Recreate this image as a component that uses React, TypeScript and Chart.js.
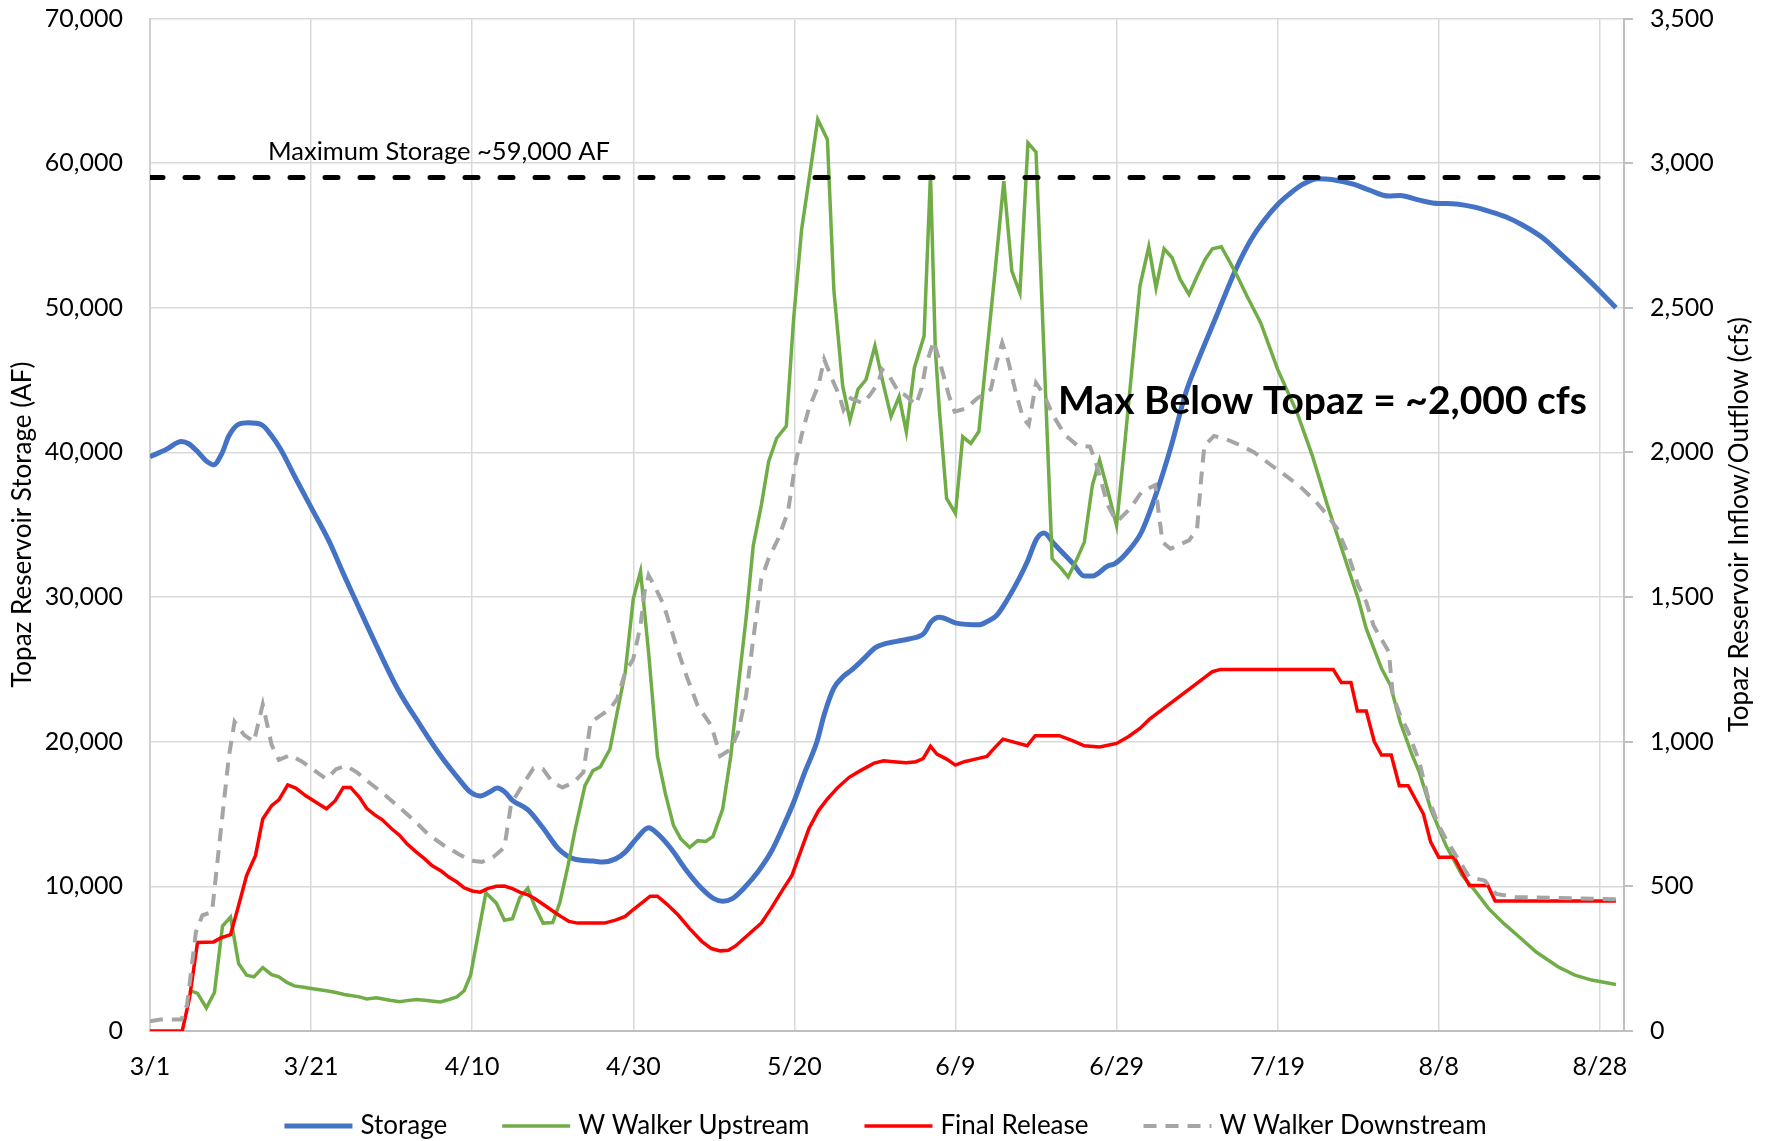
import React, { useEffect, useRef } from 'react';
import { Chart, registerables } from 'chart.js';

Chart.register(...registerables);

// ---- Data (day 0 = 3/1) ----
const xTickDays = [0, 20, 40, 60, 80, 100, 120, 140, 160, 180];
const xTickLabels = ['3/1', '3/21', '4/10', '4/30', '5/20', '6/9', '6/29', '7/19', '8/8', '8/28'];

const storageDays = [0, 2, 3.9, 4.8, 6, 7, 7.9, 8.9, 9.8, 11, 12.2, 13.9, 15.1, 16.2, 18, 20, 22.2, 24.1, 25.5, 27.9, 30.7, 33.6, 36, 38.3, 39.8, 41, 42.1, 43.1, 44, 45, 46.9, 48.8, 50.7, 52.6, 55, 56.2, 57.8, 59, 60.4, 61.9, 63, 64.7, 66.6, 68.5, 70, 71.1, 72.3, 73.7, 75.6, 77.1, 78.5, 79.9, 81.3, 82.8, 83.7, 84.9, 86.1, 87, 88.5, 90.1, 91.3, 92.7, 94.2, 96.1, 97, 98, 100.1, 102.9, 103.9, 105.1, 106.5, 107.9, 108.9, 110.1, 111, 112.2, 114.6, 116, 117, 118.9, 119.8, 121.7, 123.1, 125, 126.7, 128.6, 130, 132.4, 134.8, 136.7, 138.1, 140, 141.4, 143.1, 145, 146.7, 149.5, 151.4, 153.8, 155.2, 157.6, 160, 161, 164.3, 166.2, 168.3, 170.5, 172.9, 175.2, 178.1, 180, 182];
const storageAF = [39700, 40200, 40750, 40600, 40000, 39400, 39150, 39900, 41150, 41950, 42050, 41900, 41150, 40230, 38300, 36200, 33900, 31500, 29800, 26900, 23700, 21100, 19100, 17450, 16500, 16250, 16500, 16800, 16550, 15950, 15300, 14030, 12600, 11900, 11750, 11680, 11900, 12370, 13300, 14050, 13650, 12600, 11100, 9850, 9150, 8970, 9150, 9850, 11100, 12370, 14000, 15800, 17900, 20000, 21870, 23700, 24520, 24910, 25670, 26520, 26780, 26940, 27100, 27500, 28300, 28600, 28200, 28080, 28300, 28730, 29880, 31270, 32420, 34040, 34430, 33700, 32310, 31450, 31450, 32150, 32310, 33350, 34500, 37270, 40280, 44130, 46200, 49430, 52650, 54720, 55880, 57140, 57840, 58530, 58920, 58870, 58530, 58130, 57720, 57770, 57440, 57210, 57210, 56980, 56680, 56290, 55690, 54840, 53690, 52190, 51150, 50000];

const upstreamDays = [4.85, 5.9, 7, 8, 9, 10, 11, 12, 12.9, 14, 15.1, 16, 17, 17.9, 18.9, 20, 21.9, 23.1, 24.1, 26, 26.9, 28.1, 29.8, 31, 31.9, 33.1, 34.1, 36, 36.9, 38.1, 39, 39.8, 41.7, 43, 44, 45, 45.9, 46.9, 47.8, 48.8, 50, 50.9, 51.9, 52.8, 54, 55, 55.9, 57.1, 58, 59, 60, 60.9, 61.9, 63, 64, 65, 65.9, 67, 68, 69, 69.9, 71.1, 72.1, 73, 74, 74.9, 75.9, 76.8, 77.8, 79, 79.9, 80.9, 82, 82.9, 84.1, 84.9, 86, 86.9, 87.9, 88.9, 90, 91, 92, 93, 93.9, 94.9, 96.1, 96.9, 97.5, 98, 98.9, 100, 100.9, 101.9, 102.9, 104.9, 106, 107, 108, 109, 110, 112, 113.1, 114, 115.1, 116, 117, 117.9, 119, 120, 121, 122.9, 124, 124.9, 125.9, 126.9, 127.9, 129, 130, 131, 131.9, 133, 134.1, 135, 136.2, 137.9, 140, 142.4, 144.3, 146.2, 148.1, 150, 151, 152.9, 154, 155.2, 156.7, 157.6, 159, 160.9, 162.9, 164.3, 166.2, 168.1, 170, 172.1, 174.8, 176.9, 179, 182];
const upstreamCfs = [141, 130, 80, 133, 363, 394, 233, 193, 187, 219, 195, 187, 168, 156, 152, 147, 139, 133, 126, 118, 111, 115, 106, 101, 105, 109, 106, 100, 107, 118, 139, 193, 478, 442, 383, 388, 460, 494, 429, 373, 375, 446, 572, 699, 848, 900, 913, 974, 1101, 1240, 1494, 1589, 1309, 951, 819, 710, 664, 635, 658, 655, 673, 767, 950, 1182, 1425, 1679, 1818, 1968, 2049, 2091, 2460, 2771, 2978, 3151, 3082, 2563, 2229, 2112, 2218, 2252, 2368, 2241, 2124, 2193, 2071, 2293, 2402, 2961, 2356, 2147, 1841, 1789, 2054, 2031, 2072, 2621, 2938, 2627, 2552, 3070, 3038, 1633, 1600, 1569, 1633, 1690, 1887, 1973, 1858, 1748, 2025, 2575, 2711, 2569, 2704, 2673, 2598, 2546, 2609, 2667, 2704, 2711, 2656, 2609, 2540, 2448, 2287, 2138, 1989, 1816, 1655, 1494, 1391, 1253, 1195, 1069, 954, 894, 768, 641, 538, 492, 423, 371, 325, 273, 222, 193, 176, 161];

const releaseDays = [0, 4, 4.9, 5.9, 7.9, 8.8, 10, 11, 12, 13.1, 14, 15.1, 16, 17.1, 18.1, 19.3, 20.8, 21.9, 23, 24, 24.9, 26, 26.9, 27.9, 28.8, 30, 31, 31.9, 33, 34.1, 35, 36.2, 37.1, 38.1, 39, 40, 41, 41.9, 43, 44, 45, 45.9, 46.9, 47.8, 48.8, 50, 50.9, 52, 53.1, 56.4, 57.8, 59, 60, 61.1, 62.1, 63, 64.2, 65.6, 67, 68.5, 69.7, 70.8, 71.8, 72.7, 74.2, 75.9, 77.1, 78.5, 79.7, 80.6, 81.8, 83, 84.1, 85.4, 86.8, 88.2, 89.9, 91.1, 92.3, 93.9, 95.1, 96, 96.9, 97.7, 98.9, 100, 101.1, 102.2, 103.9, 104.8, 105.9, 107.5, 108.9, 109.9, 112.9, 114.6, 116, 117.9, 120, 121.5, 122.9, 124.1, 131.9, 132.9, 146.9, 147.9, 149.1, 149.9, 151, 152, 152.9, 154.1, 155.1, 156.2, 158.1, 159, 160, 161.9, 163.8, 166.1, 167, 182];
const releaseCfs = [0, 0, 113, 306, 308, 322, 333, 434, 538, 607, 733, 779, 799, 851, 840, 814, 787, 768, 796, 842, 842, 808, 770, 747, 731, 699, 676, 647, 620, 595, 572, 552, 532, 515, 495, 484, 480, 492, 500, 501, 492, 480, 471, 457, 438, 415, 398, 379, 373, 373, 383, 396, 420, 444, 466, 466, 438, 400, 354, 310, 285, 277, 279, 294, 331, 373, 423, 486, 538, 607, 699, 762, 802, 842, 877, 900, 926, 934, 931, 927, 931, 942, 984, 957, 940, 919, 931, 938, 949, 977, 1009, 997, 986, 1021, 1021, 1003, 986, 982, 994, 1018, 1046, 1078, 1242, 1250, 1250, 1205, 1205, 1106, 1106, 1000, 954, 954, 848, 848, 750, 653, 601, 601, 503, 503, 449, 449];

const downstreamDays = [0, 1.3, 3.9, 4.6, 5.7, 6.5, 7.7, 8.9, 9.8, 10.5, 11.7, 12.9, 14, 15.1, 16, 17.4, 18.9, 20.3, 21.9, 23.1, 24.3, 25.7, 27.2, 28.8, 30.7, 32.6, 34.5, 36.4, 38.3, 39.8, 41.2, 42.6, 44, 44.8, 45.2, 46.2, 47.6, 48.8, 50, 51.2, 52.6, 53.8, 54.7, 55.9, 57.1, 58, 59, 60, 60.9, 61.4, 61.9, 62.8, 63.8, 65.2, 66.6, 68, 69.7, 70.8, 72.1, 73, 74, 74.9, 75.9, 76.8, 78, 79.2, 80.1, 80.9, 81.8, 83, 83.7, 84.7, 85.6, 86.1, 87, 88.5, 89.4, 90.4, 90.9, 91.8, 93, 93.7, 95.1, 95.8, 96.3, 97.3, 98.2, 99.2, 99.9, 101.3, 102.7, 104.4, 105.1, 105.8, 106.5, 107.5, 108.4, 109.1, 110, 111, 112.1, 113.6, 115.1, 116.7, 117.4, 118.9, 120, 121.7, 123.1, 124.8, 125.7, 126.7, 129, 130, 130.5, 130.9, 132.1, 133.6, 135.5, 137.1, 139, 141, 142.9, 144.8, 146.2, 147.4, 148.8, 150, 151, 151.9, 153.8, 154.3, 155.2, 156.2, 157.6, 158.6, 160, 161, 162.4, 163.8, 165.7, 167.1, 169.5, 174.3, 182];
const downstreamCfs = [34, 40, 40, 90, 342, 400, 411, 722, 950, 1069, 1023, 1000, 1129, 989, 937, 954, 931, 903, 871, 905, 917, 894, 859, 825, 779, 733, 681, 643, 612, 589, 584, 601, 635, 779, 802, 848, 908, 905, 859, 842, 859, 894, 1067, 1090, 1113, 1148, 1240, 1286, 1402, 1517, 1575, 1529, 1471, 1344, 1228, 1124, 1055, 951, 974, 1032, 1159, 1356, 1563, 1633, 1702, 1794, 1956, 2060, 2152, 2233, 2322, 2252, 2195, 2147, 2187, 2170, 2199, 2240, 2287, 2264, 2206, 2199, 2164, 2222, 2298, 2385, 2298, 2195, 2141, 2152, 2187, 2218, 2310, 2379, 2322, 2206, 2118, 2095, 2240, 2199, 2129, 2060, 2025, 2020, 1968, 1818, 1760, 1806, 1864, 1887, 1690, 1667, 1696, 1736, 1908, 2023, 2057, 2046, 2023, 2000, 1960, 1920, 1879, 1828, 1782, 1736, 1644, 1540, 1483, 1402, 1311, 1161, 1092, 1035, 930, 813, 710, 658, 595, 532, 520, 474, 463, 460, 455];

const maxStorageDays = [0, 182];
const maxStorageAF = [59000, 59000];

const legendLabels = ['Storage', 'W Walker Upstream', 'Final Release', 'W Walker Downstream'];

const FONT = "Lato, 'Open Sans', sans-serif";

function pts(days: number[], vals: number[]) {
  return days.map((d, i) => ({ x: d, y: vals[i] }));
}

const overlayPlugin = {
  id: 'overlay',
  afterDraw(chart: any) {
    const ctx = chart.ctx;
    const ca = chart.chartArea;
    const y1 = chart.scales.y1;
    ctx.save();

    // right-axis outward tick marks
    ctx.strokeStyle = '#bfbfbf';
    ctx.lineWidth = 2;
    (y1.ticks || []).forEach((t: any) => {
      const py = Math.round(y1.getPixelForValue(t.value));
      ctx.beginPath();
      ctx.moveTo(ca.right, py);
      ctx.lineTo(ca.right + 9, py);
      ctx.stroke();
    });

    ctx.fillStyle = '#000';
    // axis titles
    ctx.font = `26px ${FONT}`;
    ctx.textAlign = 'center';
    ctx.textBaseline = 'middle';
    const midY = (ca.top + ca.bottom) / 2;
    ctx.save();
    ctx.translate(23, midY);
    ctx.rotate(-Math.PI / 2);
    ctx.fillText('Topaz Reservoir Storage (AF)', 0, 0);
    ctx.restore();
    ctx.save();
    ctx.translate(1740, midY);
    ctx.rotate(-Math.PI / 2);
    ctx.fillText('Topaz Reservoir Inflow/Outflow (cfs)', 0, 0);
    ctx.restore();

    // annotations
    ctx.textAlign = 'left';
    ctx.font = `25.5px ${FONT}`;
    ctx.fillText('Maximum Storage ~59,000 AF', 268, 152);
    ctx.font = `bold 39px ${FONT}`;
    ctx.fillText('Max Below Topaz = ~2,000 cfs', 1058, 401);

    // legend
    const styles = [
      { color: '#4472C4', width: 5, dash: [] as number[] },
      { color: '#70AD47', width: 3.5, dash: [] as number[] },
      { color: '#FF0000', width: 3.5, dash: [] as number[] },
      { color: '#A5A5A5', width: 4, dash: [13, 9] },
    ];
    ctx.font = `26px ${FONT}`;
    const lineLen = 68, textGap = 8, itemGap = 55;
    const widths = legendLabels.map((l) => lineLen + textGap + ctx.measureText(l).width);
    const total = widths.reduce((a, b) => a + b, 0) + itemGap * (widths.length - 1);
    let x = 885.5 - total / 2;
    const y = 1126;
    legendLabels.forEach((label, i) => {
      const s = styles[i];
      ctx.beginPath();
      ctx.setLineDash(s.dash);
      ctx.lineWidth = s.width;
      ctx.strokeStyle = s.color;
      ctx.moveTo(x, y);
      ctx.lineTo(x + lineLen, y);
      ctx.stroke();
      ctx.setLineDash([]);
      ctx.fillStyle = '#000';
      ctx.textAlign = 'left';
      ctx.textBaseline = 'middle';
      ctx.fillText(label, x + lineLen + textGap, y);
      x += widths[i] + itemGap;
    });
    ctx.restore();
  },
};

export default function App() {
  const ref = useRef<HTMLCanvasElement>(null);
  useEffect(() => {
    if (!ref.current) return;
    const tickFont = { family: FONT, size: 25 };
    const chart = new Chart(ref.current, {
      type: 'line',
      data: {
        datasets: [
          {
            label: 'Maximum Storage',
            data: pts(maxStorageDays, maxStorageAF),
            yAxisID: 'y',
            borderColor: '#000000',
            borderWidth: 5,
            borderDash: [13, 22],
            borderCapStyle: 'round',
            pointRadius: 0,
            order: 0,
          },
          {
            label: 'W Walker Downstream',
            data: pts(downstreamDays, downstreamCfs),
            yAxisID: 'y1',
            borderColor: '#A5A5A5',
            borderWidth: 4,
            borderDash: [13, 9],
            pointRadius: 0,
            tension: 0,
            order: 1,
          },
          {
            label: 'Final Release',
            data: pts(releaseDays, releaseCfs),
            yAxisID: 'y1',
            borderColor: '#FF0000',
            borderWidth: 3.5,
            pointRadius: 0,
            tension: 0,
            order: 2,
          },
          {
            label: 'W Walker Upstream',
            data: pts(upstreamDays, upstreamCfs),
            yAxisID: 'y1',
            borderColor: '#70AD47',
            borderWidth: 3.5,
            pointRadius: 0,
            tension: 0,
            order: 3,
          },
          {
            label: 'Storage',
            data: pts(storageDays, storageAF),
            yAxisID: 'y',
            borderColor: '#4472C4',
            borderWidth: 5,
            pointRadius: 0,
            cubicInterpolationMode: 'monotone',
            order: 4,
          },
        ] as any,
      },
      options: {
        animation: false,
        responsive: false,
        maintainAspectRatio: false,
        layout: { padding: { top: 18.5, left: 0, right: 0, bottom: 0 } },
        plugins: { legend: { display: false }, tooltip: { enabled: false } },
        scales: {
          x: {
            type: 'linear',
            min: 0,
            max: 183,
            afterFit: (s: any) => { s.height = 110; },
            ticks: {
              stepSize: 20,
              includeBounds: false,
              autoSkip: false,
              maxRotation: 0,
              padding: 21,
              color: '#000',
              font: tickFont,
              callback: (v: any) => {
                const i = xTickDays.indexOf(Number(v));
                return i >= 0 ? xTickLabels[i] : '';
              },
            },
            grid: { color: '#d9d9d9', lineWidth: 1.5, drawTicks: false },
            border: { color: '#bfbfbf', width: 2 },
          },
          y: {
            position: 'left',
            min: 0,
            max: 70000,
            afterFit: (s: any) => { s.width = 150; },
            ticks: {
              stepSize: 10000,
              padding: 0,
              color: '#000',
              font: tickFont,
              callback: (v: any) => Number(v).toLocaleString('en-US'),
            },
            grid: { color: '#d9d9d9', lineWidth: 1.5, drawTicks: true, tickLength: 27, tickColor: 'rgba(0,0,0,0)' },
            border: { color: '#d0d0d0', width: 2 },
          },
          y1: {
            position: 'right',
            min: 0,
            max: 3500,
            afterFit: (s: any) => { s.width = 147; },
            ticks: {
              stepSize: 500,
              padding: 0,
              color: '#000',
              font: tickFont,
              callback: (v: any) => Number(v).toLocaleString('en-US'),
            },
            grid: { drawOnChartArea: false, drawTicks: true, tickLength: 26, tickColor: 'rgba(0,0,0,0)' },
            border: { color: '#bfbfbf', width: 2 },
          },
        },
      } as any,
      plugins: [overlayPlugin],
    });
    return () => chart.destroy();
  }, []);

  return (
    <div style={{ position: 'fixed', left: 0, top: 0, width: 1771, height: 1141, background: '#fff' }}>
      <canvas ref={ref} width={1771} height={1141} style={{ width: 1771, height: 1141, display: 'block' }} />
    </div>
  );
}
